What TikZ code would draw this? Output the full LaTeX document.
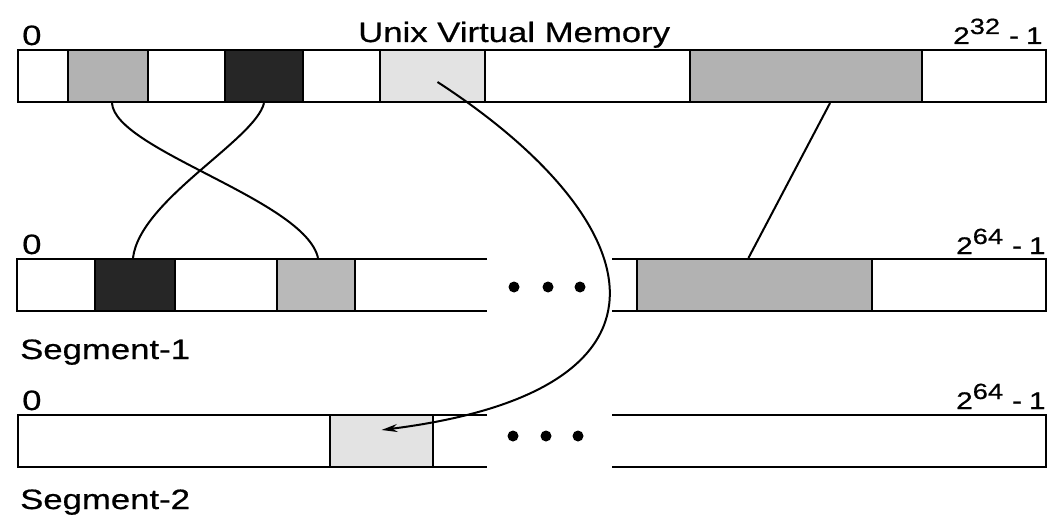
\documentclass[tikz,border=0pt]{standalone}
\usepackage{fontspec}
\setmainfont[FakeStretch=1.24,FakeBold=0.6]{Liberation Sans}
\usetikzlibrary{arrows.meta}
\begin{document}
\begin{tikzpicture}[x=1pt,y=-1pt,
  bar/.style={line width=2.2pt, line join=miter},
  blk/.style={draw, line width=2.2pt, inner sep=0pt, minimum height=52pt},
  conn/.style={line width=2pt},
  lbl/.style={inner sep=0pt, anchor=base west, font=\fontsize{28}{32}\selectfont},
  numlbl/.style={inner sep=0pt, anchor=base west, font=\fontsize{24}{28}\selectfont},
  dot/.style={fill=black}]
\newcommand{\supnum}[1]{\raisebox{10pt}{\fontsize{22}{24}\selectfont #1}}
\newcommand{\maxlabel}[1]{2\supnum{#1}\hspace{9pt}-\hspace{7pt}1}
\useasboundingbox (0,0) rectangle (1047,519);

% ---- Unix virtual memory bar ----
\draw[bar] (18,50) rectangle (1046,102);
\node[blk, fill=gray!60, minimum width=80pt]  (ug)  at (108,76) {};
\node[blk, fill=black!85, minimum width=78pt] (ud)  at (264,76) {};
\node[blk, fill=gray!22, minimum width=105pt] (ul)  at (432.5,76) {};
\node[blk, fill=gray!60, minimum width=232pt] (ub)  at (806,76) {};
\node[lbl] (t0) at (22,45) {0};
\node[lbl] (title) at (358,42) {Unix Virtual Memory};
\node[numlbl] (tmax) at (953,44) {\maxlabel{32}};

% ---- Segment-1 ----
\draw[bar] (487,259) -- (17,259) -- (17,311) -- (487,311);
\draw[bar] (612,259) -- (1046,259) -- (1046,311) -- (612,311);
\node[blk, fill=black!85, minimum width=80pt]  (s1d) at (135,285) {};
\node[blk, fill=gray!55, minimum width=78pt]   (s1g) at (316,285) {};
\node[blk, fill=gray!60, minimum width=235pt]  (s1b) at (754.5,285) {};
\fill[dot] (514,287) circle (5.5pt) (548,287) circle (5.5pt) (580,287) circle (5.5pt);
\node[lbl] (s10) at (22,254) {0};
\node[numlbl] (s1max) at (956,254) {\maxlabel{64}};
\node[lbl] (s1name) at (20,359) {Segment-1};

% ---- Segment-2 ----
\draw[bar] (487,415) -- (18,415) -- (18,467) -- (487,467);
\draw[bar] (612,415) -- (1046,415) -- (1046,467) -- (612,467);
\node[blk, fill=gray!22, minimum width=103pt]  (s2l) at (381.5,441) {};
\fill[dot] (513,436) circle (5.5pt) (546,436) circle (5.5pt) (578,436) circle (5.5pt);
\node[lbl] (s20) at (22,410) {0};
\node[numlbl] (s2max) at (956,409) {\maxlabel{64}};
\node[lbl] (s2name) at (20,509) {Segment-2};

% ---- mappings ----
\draw[conn] ([xshift=4pt]ug.south) .. controls (115,150) and (305,200) .. ([xshift=2pt]s1g.north);
\draw[conn] (ud.south) .. controls (255,140) and (140,200) .. ([xshift=-2pt]s1d.north);
\draw[conn] ([xshift=24pt]ub.south) -- ([xshift=-6pt]s1b.north);
\draw[conn, -{Stealth[length=16pt,width=8pt]}] ([xshift=5pt,yshift=-6pt]ul.center)
  .. controls (650,220) and (700,390) .. ([yshift=11pt]s2l.center);
\end{tikzpicture}
\end{document}
